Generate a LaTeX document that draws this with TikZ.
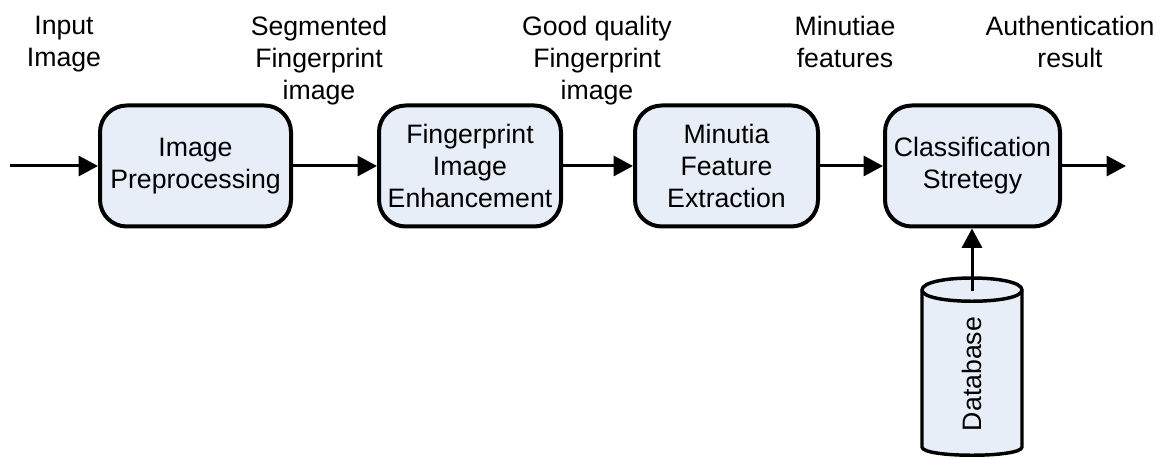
\documentclass[tikz,border=0pt]{standalone}
\usepackage{fontspec}
\setmainfont{Liberation Sans}
\usetikzlibrary{arrows.meta}
\definecolor{boxfill}{RGB}{232,238,248}
\begin{document}
\begin{tikzpicture}[x=0.75pt,y=-0.75pt,
  every node/.style={font=\fontsize{20}{24}\selectfont},
  stage/.style={draw, line width=3pt, fill=boxfill, rounded corners=20pt,
    minimum height=90.75pt, align=center, inner sep=0pt},
  lbl/.style={align=center, anchor=north, inner sep=0pt},
  store/.style={draw, line width=2.6pt, fill=boxfill, line join=round},
  flow/.style={line width=2.25pt, -{Triangle[length=14.5pt,width=15pt]}}]
\useasboundingbox (0,0) rectangle (1172,459);

% processing stages
\node[stage, minimum width=143.25pt] (pre) at (195.5,166) {Image\\Preprocessing};
\node[stage, minimum width=136.5pt]  (enh) at (470,166)   {Fingerprint\\Image\\Enhancement};
\node[stage, minimum width=137.25pt] (ext) at (726.5,166) {Minutia\\Feature\\Extraction};
\node[stage, minimum width=131.25pt] (cls) at (972.5,166) {Classification\\Stretegy};

% database store: cylinder body with its top ellipse
\path[store] (922,290) -- (922,447)
  .. controls (922,458) and (1022,458) .. (1022,447) -- (1022,290)
  .. controls (1022,274) and (922,274) .. (922,290) -- cycle;
\draw[line width=2.6pt] (922,290) .. controls (922,305) and (1022,305) .. (1022,290);
\node[rotate=90, inner sep=0pt] (db) at (972,374) {Database};

% data labels above the flow
\node[lbl] (l1) at (64,16)   {Input\\Image};
\node[lbl] (l2) at (319,16)  {Segmented\\Fingerprint\\image};
\node[lbl] (l3) at (597,16)  {Good quality\\Fingerprint\\image};
\node[lbl] (l4) at (845,16)  {Minutiae\\features};
\node[lbl] (l5) at (1070,16) {Authentication\\result};

% connectors
\coordinate (in)  at (10,166);
\coordinate (out) at (1126,166);
\coordinate (dbin) at (972,291);
\draw[flow] (in) -- (pre);
\draw[flow] (pre) -- (enh);
\draw[flow] (enh) -- (ext);
\draw[flow] (ext) -- (cls);
\draw[flow] (cls) -- (out);
\draw[flow] (dbin) -- (dbin |- cls.south);
\end{tikzpicture}
\end{document}
